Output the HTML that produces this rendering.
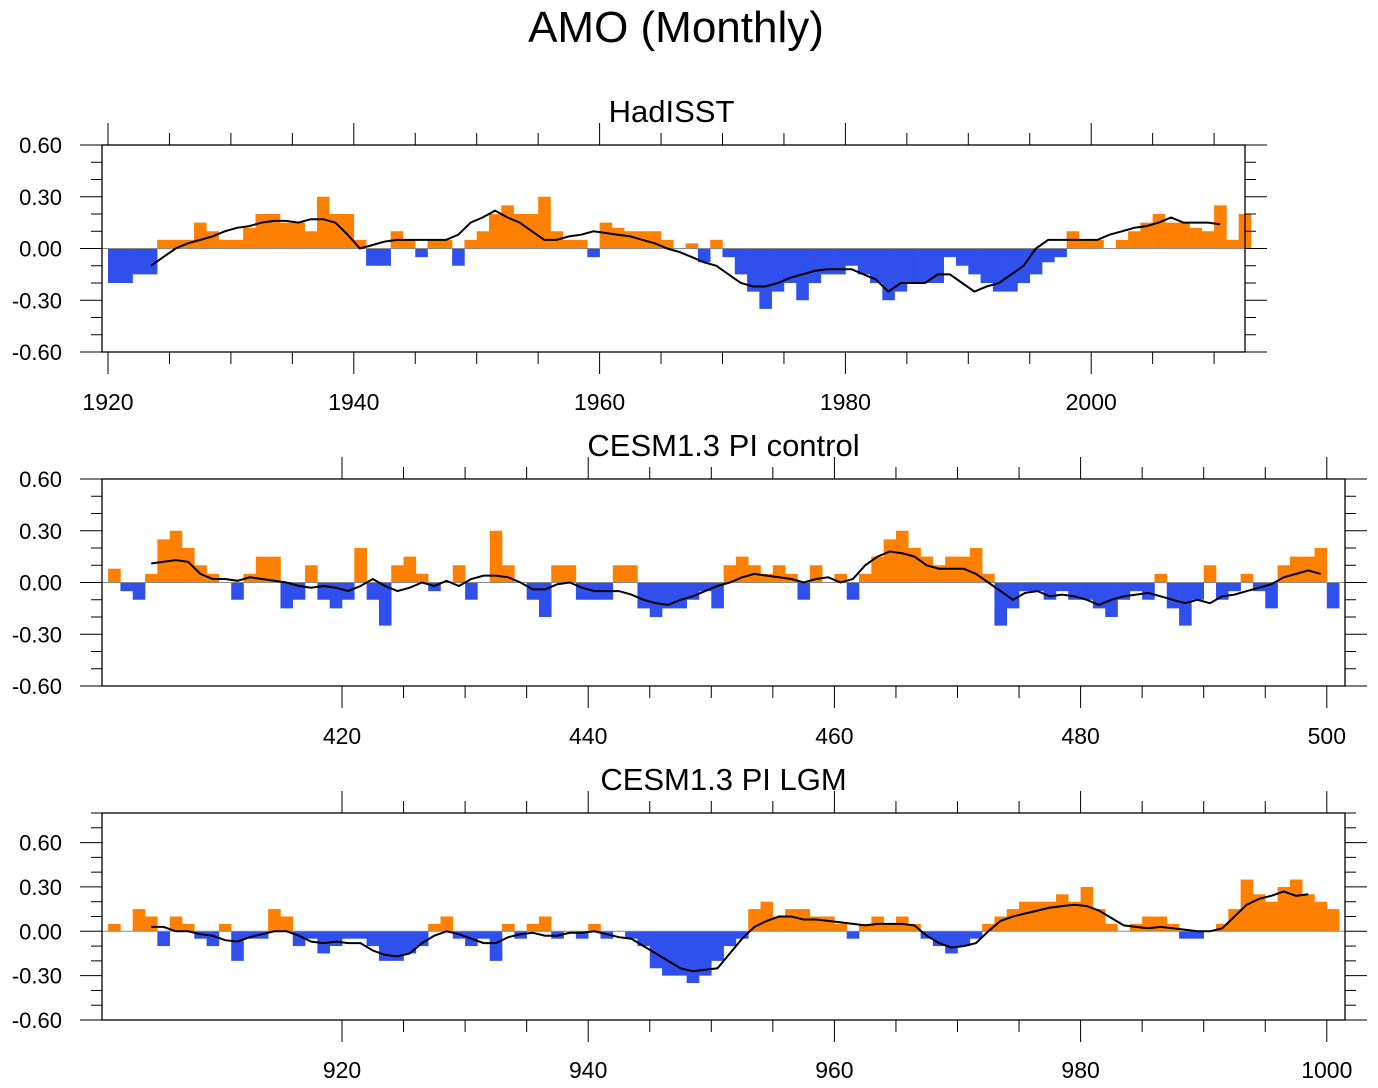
<!DOCTYPE html>
<html><head><meta charset="utf-8">
<style>
html,body{margin:0;padding:0;background:#fff;}
svg{display:block;font-family:"Liberation Sans",sans-serif;}
</style></head>
<body>
<svg id="chart" width="1378" height="1088" viewBox="0 0 1378 1088">
<text x="676" y="42" font-size="44" text-anchor="middle">AMO (Monthly)</text>
</svg>
<script>
// ---- Panel 1: HadISST ----
const hadStart = 1920;
const hadValues = [-0.2,-0.2,-0.15,-0.15,0.05,0.05,0.05,0.15,0.1,0.05,
 0.05,0.12,0.2,0.2,0.15,0.15,0.1,0.3,0.2,0.2,
 0.05,-0.1,-0.1,0.1,0.05,-0.05,0.05,0.05,-0.1,0.05,
 0.1,0.2,0.25,0.2,0.2,0.3,0.1,0.05,0.05,-0.05,
 0.15,0.12,0.1,0.1,0.1,0.05,0.0,0.03,-0.08,0.05,
 -0.05,-0.15,-0.25,-0.35,-0.25,-0.2,-0.3,-0.2,-0.15,-0.15,
 -0.1,-0.15,-0.2,-0.3,-0.25,-0.2,-0.2,-0.2,-0.05,-0.1,
 -0.15,-0.2,-0.25,-0.25,-0.2,-0.15,-0.08,-0.05,0.1,0.05,
 0.05,0.0,0.05,0.1,0.15,0.2,0.15,0.15,0.12,0.1,
 0.25,0.05,0.2];
const hadSmoothStart = 1923;
const hadSmooth = [-0.1,-0.05,0.0,0.03,0.05,0.07,0.1,0.12,0.13,0.15,
 0.16,0.16,0.15,0.17,0.17,0.15,0.08,0.0,0.02,0.04,
 0.05,0.05,0.05,0.05,0.05,0.08,0.15,0.18,0.22,0.18,
 0.15,0.1,0.05,0.05,0.07,0.08,0.1,0.09,0.08,0.07,
 0.05,0.03,0.0,-0.02,-0.05,-0.08,-0.1,-0.15,-0.2,-0.22,
 -0.22,-0.2,-0.17,-0.15,-0.13,-0.12,-0.12,-0.12,-0.15,-0.18,
 -0.25,-0.2,-0.2,-0.2,-0.15,-0.15,-0.2,-0.25,-0.22,-0.2,
 -0.15,-0.1,0.0,0.05,0.05,0.05,0.05,0.05,0.08,0.1,
 0.12,0.13,0.15,0.18,0.15,0.15,0.15,0.14];
const hadTicks = [1920,1940,1960,1980,2000];

// ---- Panel 2: PI control ----
const ctlStart = 401;
const ctlValues = [0.08,-0.05,-0.1,0.05,0.25,0.3,0.2,0.1,0.05,0.0,
 -0.1,0.05,0.15,0.15,-0.15,-0.1,0.1,-0.1,-0.15,-0.1,
 0.2,-0.1,-0.25,0.1,0.15,0.05,-0.05,0.0,0.1,-0.1,
 0.0,0.3,0.1,0.0,-0.1,-0.2,0.1,0.1,-0.1,-0.1,
 -0.1,0.1,0.1,-0.15,-0.2,-0.15,-0.15,-0.1,-0.05,-0.15,
 0.1,0.15,0.1,0.05,0.1,0.05,-0.1,0.1,0.0,0.05,
 -0.1,0.05,0.15,0.25,0.3,0.2,0.15,0.1,0.15,0.15,
 0.2,0.05,-0.25,-0.15,-0.05,-0.05,-0.1,-0.05,-0.1,-0.1,
 -0.15,-0.2,-0.1,-0.05,-0.1,0.05,-0.15,-0.25,-0.1,0.1,
 -0.1,-0.05,0.05,-0.05,-0.15,0.1,0.15,0.15,0.2,-0.15];
const ctlSmoothStart = 404;
const ctlSmooth = [0.11,0.12,0.13,0.12,0.05,0.02,0.02,0.01,0.03,0.02,
 0.01,0.0,-0.02,-0.03,-0.02,-0.03,-0.05,-0.02,0.02,-0.02,
 -0.05,-0.03,0.0,-0.02,0.01,-0.02,0.02,0.04,0.04,0.03,
 0.0,-0.04,-0.04,-0.01,0.0,-0.03,-0.05,-0.05,-0.05,-0.07,
 -0.1,-0.12,-0.13,-0.1,-0.08,-0.05,-0.02,0.0,0.03,0.05,
 0.04,0.03,0.02,0.0,0.02,0.03,0.0,0.02,0.1,0.15,
 0.18,0.17,0.15,0.1,0.08,0.08,0.08,0.05,0.0,-0.05,
 -0.1,-0.06,-0.05,-0.08,-0.07,-0.08,-0.1,-0.13,-0.1,-0.08,
 -0.07,-0.06,-0.08,-0.1,-0.12,-0.1,-0.12,-0.08,-0.07,-0.05,
 -0.03,-0.01,0.03,0.05,0.07,0.05];
const ctlTicks = [420,440,460,480,500];

// ---- Panel 3: PI LGM ----
const lgmStart = 901;
const lgmValues = [0.05,0.0,0.15,0.1,-0.1,0.1,0.05,-0.05,-0.1,0.05,
 -0.2,-0.05,-0.05,0.15,0.1,-0.1,-0.05,-0.15,-0.1,-0.05,
 -0.05,-0.1,-0.2,-0.2,-0.15,-0.1,0.05,0.1,-0.05,-0.1,
 -0.05,-0.2,0.05,-0.05,0.05,0.1,-0.05,0.0,-0.05,0.05,
 -0.05,0.0,-0.05,-0.1,-0.25,-0.3,-0.3,-0.35,-0.3,-0.2,
 -0.1,-0.05,0.15,0.2,0.1,0.15,0.15,0.1,0.1,0.05,
 -0.05,0.05,0.1,0.05,0.1,0.05,-0.05,-0.1,-0.15,-0.1,
 -0.05,0.05,0.1,0.15,0.2,0.2,0.2,0.25,0.2,0.3,
 0.15,0.05,0.0,0.05,0.1,0.1,0.05,-0.05,-0.05,0.0,
 0.05,0.15,0.35,0.25,0.2,0.3,0.35,0.25,0.2,0.15];
const lgmSmoothStart = 904;
const lgmSmooth = [0.03,0.03,0.0,0.0,-0.02,-0.03,-0.06,-0.07,-0.04,-0.02,
 0.0,0.0,-0.03,-0.07,-0.08,-0.07,-0.08,-0.08,-0.13,-0.16,
 -0.17,-0.15,-0.08,-0.03,0.0,-0.02,-0.05,-0.08,-0.08,-0.04,
 -0.02,-0.01,-0.03,-0.03,-0.01,-0.01,0.0,-0.02,-0.04,-0.05,
 -0.1,-0.15,-0.2,-0.25,-0.27,-0.26,-0.25,-0.15,-0.05,0.03,
 0.07,0.1,0.1,0.08,0.08,0.07,0.06,0.05,0.04,0.05,
 0.05,0.05,0.04,-0.03,-0.08,-0.11,-0.1,-0.08,0.0,0.07,
 0.1,0.12,0.14,0.16,0.17,0.18,0.17,0.14,0.09,0.04,
 0.03,0.02,0.03,0.02,0.01,0.0,0.0,0.02,0.1,0.18,
 0.22,0.24,0.27,0.24,0.25];
const lgmTicks = [920,940,960,980,1000];

const yTickLabels = ["0.60","0.30","0.00","-0.30","-0.60"];
const yTickVals = [0.6,0.3,0.0,-0.3,-0.6];

const NS = "http://www.w3.org/2000/svg";
const svg = document.getElementById("chart");
function mk(tag, attrs, parent){
  const e = document.createElementNS(NS, tag);
  for (const k in attrs) e.setAttribute(k, attrs[k]);
  (parent||svg).appendChild(e);
  return e;
}

function panel(cfg){
  const g = mk("g", {});
  
  
  const xs = v => cfg.x0px + (v - cfg.x0) * cfg.pxPerYr;
  const ys = v => cfg.top + (cfg.ymax - v) / (cfg.ymax - cfg.ymin) * (cfg.bot - cfg.top);
  const L = cfg.left, R = cfg.right, T = cfg.top, B = cfg.bot;
  const t = mk("text", {x:(L+R)/2 + cfg.titleDx, y:T-23, "font-size":31, "text-anchor":"middle"}, g);
  t.textContent = cfg.title;
  
  
  const bw = cfg.pxPerYr;
  const y0 = ys(0);
  cfg.values.forEach((v,i)=>{
    const x = xs(cfg.start + i);
    const y = ys(v);
    const r = mk("rect", {x:x, y:Math.min(y,y0), width:bw+0.3, height:Math.abs(y-y0),
      fill: v>=0 ? "#ff8000" : "#3050ee"}, g);
    
    
  });
  mk("line", {x1:L, x2:R, y1:y0, y2:y0, stroke:"#888", "stroke-width":1}, g);
  const pts = cfg.smooth.map((v,i)=> xs(cfg.smoothStart + i + 0.5).toFixed(1)+","+ys(v).toFixed(1)).join(" ");
  const pl = mk("polyline", {points:pts, fill:"none", stroke:"#000", "stroke-width":2}, g);
  
  
  mk("rect", {x:L, y:T, width:R-L, height:B-T, fill:"none", stroke:"#000", "stroke-width":1.3}, g);
  for (let v = cfg.ymin; v <= cfg.ymax + 1e-6; v += 0.1){
    const vv = Math.round(v*10)/10;
    const yy = ys(vv);
    const major = Math.abs(Math.round(vv*10) % 3) === 0;
    const len = major ? 22 : 11;
    mk("line", {x1:L-len, x2:L, y1:yy, y2:yy, stroke:"#000", "stroke-width":1}, g);
    mk("line", {x1:R, x2:R+len, y1:yy, y2:yy, stroke:"#000", "stroke-width":1}, g);
  }
  yTickVals.forEach((v,i)=>{
    const tx = mk("text", {x:62, y:ys(v)+8, "font-size":22, "text-anchor":"end"}, g);
    tx.textContent = yTickLabels[i];
    
    
  });
  const first = Math.ceil(cfg.x0/5)*5;
  for (let yr = first; xs(yr) <= R; yr += 5){
    const x = xs(yr);
    if (x < L) continue;
    const major = yr % 20 === 0;
    const len = major ? 22 : 12;
    mk("line", {x1:x, x2:x, y1:T-len, y2:T, stroke:"#000", "stroke-width":1}, g);
    mk("line", {x1:x, x2:x, y1:B, y2:B+len, stroke:"#000", "stroke-width":1}, g);
  }
  cfg.ticks.forEach(yr=>{
    const tx = mk("text", {x:xs(yr), y:B+58, "font-size":23, "text-anchor":"middle"}, g);
    tx.textContent = String(yr);
    
    
  });
}

panel({name:"panel-hadisst", title:"HadISST", titleDx:-2, left:102, right:1245, top:145, bot:352,
  x0:1920, x0px:108, pxPerYr:12.29, ymin:-0.6, ymax:0.6,
  start:hadStart, values:hadValues, smoothStart:hadSmoothStart, smooth:hadSmooth, ticks:hadTicks});
panel({name:"panel-pi-control", title:"CESM1.3 PI control", titleDx:0, left:102, right:1345, top:479, bot:686,
  x0:420, x0px:342, pxPerYr:12.31, ymin:-0.6, ymax:0.6,
  start:ctlStart, values:ctlValues, smoothStart:ctlSmoothStart, smooth:ctlSmooth, ticks:ctlTicks});
panel({name:"panel-pi-lgm", title:"CESM1.3 PI LGM", titleDx:0, left:102, right:1345, top:813, bot:1020,
  x0:920, x0px:342, pxPerYr:12.31, ymin:-0.6, ymax:0.8,
  start:lgmStart, values:lgmValues, smoothStart:lgmSmoothStart, smooth:lgmSmooth, ticks:lgmTicks});
</script>
</body></html>
